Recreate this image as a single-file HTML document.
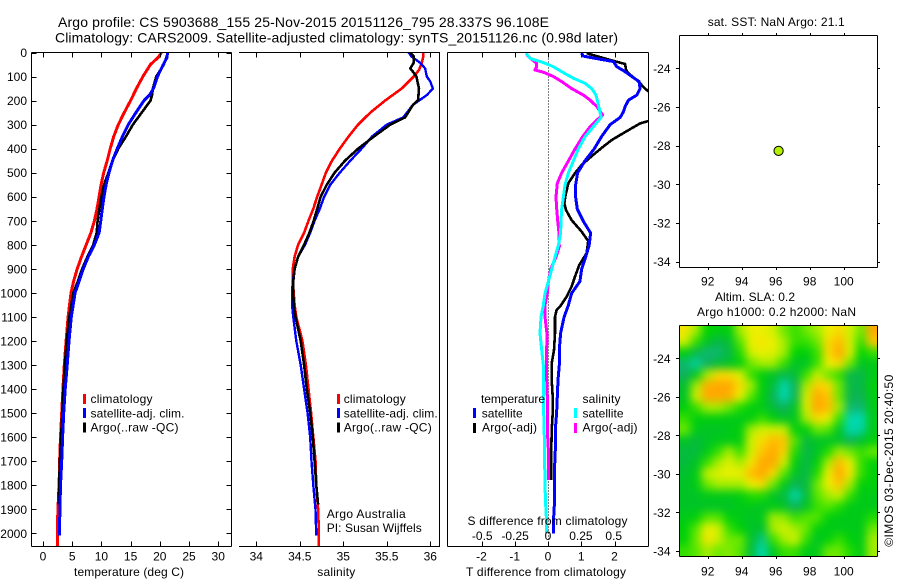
<!DOCTYPE html>
<html lang="en">
<head>
<meta charset="utf-8">
<title>Argo profile 5903688_155</title>
<style>
html,body{margin:0;padding:0;background:#fff;}
svg{display:block;}
text{font-family:"Liberation Sans",sans-serif;font-size:12px;fill:#000;}
.ttl{font-size:14px;}
</style>
</head>
<body>
<svg id="chart" xmlns="http://www.w3.org/2000/svg" width="900" height="580" viewBox="0 0 900 580">
  <defs>
    <clipPath id="clip1"><rect x="31.5" y="52.5" width="199.5" height="493.5"/></clipPath>
    <clipPath id="clip2"><rect x="239" y="52.5" width="201" height="493.5"/></clipPath>
    <clipPath id="clip3"><rect x="447.5" y="52.5" width="201" height="493.5"/></clipPath>
    <clipPath id="clipMap"><rect x="679.5" y="325" width="198" height="231"/></clipPath>
    <filter id="mapBlur" x="-10%" y="-10%" width="120%" height="120%" color-interpolation-filters="sRGB"><feGaussianBlur stdDeviation="4.5"/></filter>
  </defs>

  <text class="ttl" x="58" y="27" textLength="491">Argo profile: CS 5903688_155 25-Nov-2015 20151126_795 28.337S 96.108E</text>
  <text class="ttl" x="55" y="42.5" textLength="563">Climatology: CARS2009. Satellite-adjusted climatology: synTS_20151126.nc (0.98d later)</text>

  <g id="heat" clip-path="url(#clipMap)"><g id="heatCells" filter="url(#mapBlur)"></g></g>
  <g id="lines1" clip-path="url(#clip1)"></g>
  <g id="lines2" clip-path="url(#clip2)"></g>
  <line x1="548.5" x2="548.5" y1="52.5" y2="546" stroke="#000" stroke-width="1" stroke-dasharray="1 2" shape-rendering="crispEdges"/>
  <g id="lines3" clip-path="url(#clip3)"></g>
  <g id="axes"></g>

  <text x="74" y="576" textLength="110">temperature (deg C)</text>
  <text x="317.3" y="576" textLength="38">salinity</text>
  <text x="466" y="576" textLength="160">T difference from climatology</text>
  <text x="467.5" y="525" textLength="160">S difference from climatology</text>

  <g>
    <rect x="83" y="394" width="3" height="10" fill="#f00"/>
    <rect x="83" y="408" width="3" height="10" fill="#00f"/>
    <rect x="83" y="422.5" width="3" height="10" fill="#000"/>
    <text x="90.5" y="403" textLength="62">climatology</text>
    <text x="90.5" y="417.5" textLength="94">satellite-adj. clim.</text>
    <text x="90.5" y="431.5" textLength="88">Argo(..raw -QC)</text>
  </g>
  <g>
    <rect x="337" y="394" width="3" height="10" fill="#f00"/>
    <rect x="337" y="408" width="3" height="10" fill="#00f"/>
    <rect x="337" y="422.5" width="3" height="10" fill="#000"/>
    <text x="343.7" y="403" textLength="62">climatology</text>
    <text x="343.7" y="417.5" textLength="94">satellite-adj. clim.</text>
    <text x="343.7" y="431.5" textLength="88">Argo(..raw -QC)</text>
    <text x="326.7" y="518" textLength="79">Argo Australia</text>
    <text x="326.7" y="532" textLength="95">PI: Susan Wijffels</text>
  </g>
  <g>
    <text x="481" y="403" textLength="64">temperature</text>
    <text x="481.7" y="417.5" textLength="41">satellite</text>
    <text x="482" y="431.5" textLength="55">Argo(-adj)</text>
    <rect x="473" y="408" width="3" height="10" fill="#00f"/>
    <rect x="473" y="423" width="3" height="10" fill="#000"/>
    <text x="582.5" y="403" textLength="38">salinity</text>
    <text x="582.5" y="417.5" textLength="41">satellite</text>
    <text x="582.5" y="431.5" textLength="55">Argo(-adj)</text>
    <rect x="574" y="408" width="3" height="10" fill="#0ff"/>
    <rect x="574" y="423" width="3" height="10" fill="#f0f"/>
  </g>

  <text x="707.7" y="26" textLength="137">sat. SST: NaN Argo: 21.1</text>
  <text x="715" y="301" textLength="80">Altim. SLA: 0.2</text>
  <text x="697" y="316" textLength="159">Argo h1000: 0.2 h2000: NaN</text>
  <text transform="translate(893,546.7) rotate(-90)" x="0" y="0" textLength="172">©IMOS 03-Dec-2015 20:40:50</text>
  <g id="marker"></g>
</svg>

<script>
// ---- Depth tick labels
const depthTicks = [0,100,200,300,400,500,600,700,800,900,1000,1100,1200,1300,1400,1500,1600,1700,1800,1900,2000];
const tempTicks = [0,5,10,15,20,25,30];
const salTicks = [34,34.5,35,35.5,36];
const tDiffTicks = [-2,-1,0,1,2];
const sDiffTicks = [-0.5,-0.25,0,0.25,0.5];
const lonTicks = [92,94,96,98,100];
const latTicks = [-24,-26,-28,-30,-32,-34];

// ---- Temperature panel
const tempClimDepth = [0,20,50,100,150,200,250,300,350,400,450,500,550,600,650,700,750,800,850,900,950,1000,1100,1200,1300,1400,1500,1600,1700,1800,1900,2000,2053];
const tempClim = [20.3,19.75,18.4,17.1,16.0,15.0,13.9,12.9,12.1,11.5,11.0,10.4,9.95,9.6,9.25,8.8,8.2,7.4,6.6,5.85,5.25,4.8,4.3,3.95,3.65,3.4,3.2,3.0,2.85,2.75,2.55,2.45,2.45];
const tempSatDepth = [0,20,50,100,150,175,200,250,300,350,400,450,500,550,600,650,700,750,800,850,900,950,1000,1100,1200,1300,1400,1500,1600,1700,1800,1900,2010];
const tempSat = [21.3,21.25,20.6,19.6,18.9,18.3,17.3,15.9,14.6,13.6,12.7,11.9,11.3,10.8,10.45,10.15,9.9,9.6,8.8,7.75,6.9,6.2,5.5,4.85,4.45,4.15,3.8,3.55,3.35,3.2,3.0,2.9,2.8];
const tempArgoDepth = [0,50,100,150,175,200,250,300,350,400,450,500,550,600,650,700,750,800,850,900,950,1000,1100,1200,1300,1400,1500,1600,1700,1800,1880];
const tempArgo = [21.4,20.7,19.4,18.8,18.7,18.4,16.9,15.4,14.2,12.9,11.9,11.2,10.45,10.0,9.65,9.35,9.2,8.6,7.6,6.7,6.0,5.2,4.5,4.05,3.75,3.5,3.3,3.1,2.9,2.75,2.7];

// ---- Salinity panel
const salClimDepth = [0,17,45,73,100,150,200,250,300,350,400,450,500,550,600,650,700,750,800,850,900,950,1000,1050,1100,1200,1300,1400,1500,1600,1700,1800,1900,2000,2053];
const salClim = [35.92,35.92,35.9,35.87,35.81,35.67,35.48,35.31,35.17,35.06,34.96,34.87,34.8,34.75,34.7,34.655,34.6,34.55,34.48,34.44,34.42,34.42,34.43,34.44,34.46,34.53,34.57,34.6,34.63,34.655,34.68,34.69,34.71,34.72,34.72];
const salSatDepth = [0,17,42,66,100,121,150,177,218,270,300,350,400,450,500,550,600,650,700,750,800,850,900,950,1000,1050,1100,1200,1300,1400,1500,1600,1700,1800,1900,2010];
const salSat = [35.75,35.785,35.88,35.94,35.96,36.0,36.03,35.96,35.8,35.69,35.5,35.33,35.21,35.08,34.96,34.85,34.78,34.73,34.67,34.62,34.56,34.48,34.44,34.42,34.41,34.41,34.425,34.46,34.51,34.55,34.59,34.62,34.635,34.655,34.68,34.69];
const salArgoDepth = [0,17,42,66,80,100,150,198,218,270,300,350,400,450,500,550,600,650,700,750,800,850,900,950,1000,1050,1100,1200,1300,1400,1500,1600,1700,1800,1880];
const salArgo = [35.77,35.81,35.81,35.77,35.8,35.84,35.87,35.86,35.8,35.71,35.54,35.35,35.17,35.02,34.9,34.81,34.74,34.7,34.66,34.61,34.55,34.48,34.44,34.425,34.425,34.43,34.45,34.51,34.55,34.58,34.62,34.65,34.67,34.69,34.71];

// ---- Difference panel
const dTSatDepth = [3,15,24,38,59,80,100,121,150,177,198,225,246,270,300,350,401,451,501,551,601,651,701,751,801,851,902,952,1002,1052,1102,1168,1238,1300,1362,1432,1501,1570,1654,1723,1861,1931,2000];
const dTSat = [1.01,1.06,1.41,1.97,2.07,2.32,2.52,2.74,2.77,2.67,2.42,2.32,2.27,2.17,1.87,1.61,1.39,1.11,0.89,0.83,0.83,0.88,1.06,1.28,1.24,1.13,1.01,0.96,0.71,0.61,0.48,0.38,0.34,0.34,0.3,0.28,0.26,0.22,0.22,0.2,0.2,0.17,0.16];
const dTArgoDepth = [3,15,31,48,73,87,114,150,163,200,285,295,315,343,364,392,426,468,502,544,593,627,655,697,745,784,835,884,933,974,1016,1057,1071,1100,1168,1238,1293,1362,1432,1501,1570,1654,1778];
const dTArgo = [1.16,1.46,1.87,2.32,2.35,2.42,2.67,2.92,3.03,3.6,3.02,2.77,2.52,2.17,1.92,1.66,1.36,1.01,0.81,0.61,0.53,0.49,0.54,0.71,1.01,1.21,1.16,0.94,0.81,0.71,0.56,0.36,0.26,0.21,0.21,0.18,0.11,0.11,0.14,0.14,0.11,0.1,0.1];
const dSSatDepth = [3,24,42,59,80,107,128,150,177,218,270,300,350,401,451,501,551,601,651,701,751,801,851,902,952,1002,1052,1100,1168,1238,1300,1432,1501,1570,1654,1723,1861,1931,2000];
const dSSat = [-0.168,-0.137,-0.036,0.041,0.104,0.193,0.282,0.332,0.365,0.383,0.404,0.358,0.282,0.231,0.193,0.155,0.129,0.117,0.104,0.099,0.096,0.079,0.053,0.028,0.003,-0.023,-0.036,-0.053,-0.061,-0.048,-0.036,-0.036,-0.033,-0.03,-0.025,-0.025,-0.02,-0.013,-0.01];
const dSArgoDepth = [3,17,45,59,73,82,100,121,150,177,198,225,260,281,309,350,401,451,501,544,601,651,701,751,808,851,902,952,1002,1052,1100,1168,1238,1362,1432,1570,1654,1778];
const dSArgo = [-0.168,-0.15,-0.086,-0.086,-0.099,-0.036,0.041,0.104,0.18,0.269,0.32,0.371,0.416,0.371,0.32,0.264,0.206,0.155,0.104,0.071,0.061,0.066,0.074,0.084,0.086,0.061,0.02,0.003,-0.005,-0.023,-0.023,-0.008,-0.01,-0.01,-0.005,-0.005,0.003,0.003];

// ---- Argo float position
const floatLon = [96.17];
const floatLat = [-28.27];

// ---- Sea level anomaly grid (rows north to south, columns west to east)
const slaGrid = [
[2.8,1.5,0,-0.3,-0.3,1.5,2.5,2.5,2,1,0.5,1,1.5,2.5,3,2,1,4.5],
[2,0.5,-0.8,-1.5,-1,0.8,2.5,2.8,2.5,1.5,0.5,0.5,1,3,3.8,2,0.5,3.5],
[-0.3,-1.5,-2.2,-2.2,-1.5,0.3,2,2.5,2.2,1.5,0,-0.3,0.5,3,4.6,2.2,0,0.5],
[-2.2,-2.8,-2,-1.2,-0.8,-0.3,1,1.5,1.5,0.5,-0.8,-0.8,0.5,2.5,3,1,-0.8,-0.5],
[-2,-0.8,1.5,3,3,2.2,0.5,-0.3,-0.8,-1.5,-1.2,0.5,1.8,1,0.5,-1.5,-1.5,-0.5],
[-1,1.5,4.2,4.8,4.6,3,1.5,-0.3,-1.2,-3,-1.8,1.5,3.3,3,1,-1.5,-1.5,-0.2],
[-0.8,2,4.4,4.8,4.2,2.5,0.8,-0.3,-1.8,-3.6,-1.8,2,4.4,3.5,1,-1.5,-1.8,-0.4],
[-0.3,0.5,1.5,1.5,1,0.3,-0.3,-0.5,-1.2,-2,-0.8,2,4.8,3.8,1.5,-2.2,-2.2,-0.5],
[0.5,-0.3,-0.3,-0.3,-0.5,-0.5,-0.3,0.5,-0.3,-0.8,-0.6,1.5,3,2.5,0.5,-3,-3,-0.5],
[1,-0.5,-0.8,-0.8,-0.5,-0.3,1.5,2,2,1.8,-0.3,-0.3,1,0.8,-0.8,-3,-2.8,-0.5],
[-0.8,-1.3,-0.8,-0.5,-0.5,-0.3,2,3,3.8,3.5,0.8,-1.3,-0.8,-0.8,-0.8,-1.8,-1,-0.2],
[-1.3,-1.3,-0.5,0.5,1.5,0.5,2,3.5,4.8,3.2,0.3,-1.5,-0.8,0.3,1.5,1,0.5,1],
[-1.3,-0.8,0.5,1.5,2.2,1.5,2.8,4.8,4.4,2,-0.3,-1.5,-0.3,1.5,3.8,2.5,0.5,-0.2],
[-1,-0.5,1.8,2.2,2.5,2.5,3.8,5,3,0.8,-0.8,-1.5,0.3,2.5,4.9,2.8,0.5,-0.2],
[-0.8,-0.5,1,1.5,1.5,1.5,2.5,3,1,-0.5,-1.8,-1.3,1,2.5,3.5,1.5,-0.2,-0.2],
[-0.8,-0.8,-0.5,-0.5,-0.5,-0.3,0.3,0.3,-0.8,-1.3,-3.6,-1.3,0.8,1.5,1.8,0.5,-0.5,-0.5],
[-0.8,-0.8,-0.8,-0.8,-0.8,-0.5,-0.5,-0.8,-0.5,-0.8,-2,-0.8,0.5,0.8,0.3,-0.5,-0.5,-0.5],
[-0.5,-0.2,0.8,0.8,-0.2,-0.5,-0.8,-0.5,1.5,1.3,0.5,0.8,0.8,-0.2,-0.5,-0.5,-0.5,0.3],
[-0.2,0.8,2.5,2,0.5,-0.2,-0.8,-1,1.5,2,1.5,1,-0.2,-0.5,-0.5,-0.5,-0.5,1],
[-0.2,1,2.8,1.8,1,1,-0.8,-2.5,0.5,1.5,2,0.5,-0.8,-0.2,0.5,-0.2,-0.5,1.5],
[0.5,0.8,1.5,1,1.2,0.8,-1.2,-3,-0.8,0.5,0.5,-0.5,-0.5,1,1,0.3,-0.5,1.5]
];

// ---- Axis functions
const NS = 'http://www.w3.org/2000/svg';
function yDepth(d){ return 52.5 + 0.2404 * d; }
function xTemp(t){ return 43 + 5.84 * t; }
function xSal(s){ return 256.3 + 87 * (s - 34); }
function xDT(t){ return 548 + 33.25 * t; }
function xDS(s){ return 548 + 131.5 * s; }
function xLon(l){ return 707.7 + 17 * (l - 92); }
function yLatTop(l){ return 68.3 + 19.33 * (-l - 24); }
function yLatBot(l){ return 358.3 + 19.27 * (-l - 24); }

const axesG = document.getElementById('axes');

function addLine(x1, y1, x2, y2, name){
  const el = document.createElementNS(NS, 'line');
  
  
  el.setAttribute('x1', x1);
  el.setAttribute('y1', y1);
  el.setAttribute('x2', x2);
  el.setAttribute('y2', y2);
  el.setAttribute('stroke', '#000');
  el.setAttribute('stroke-width', '1');
  el.setAttribute('shape-rendering', 'crispEdges');
  axesG.appendChild(el);
}
function addLabel(x, cy, str, anchor, name){
  const el = document.createElementNS(NS, 'text');
  
  
  el.setAttribute('x', x);
  el.setAttribute('y', cy + 4.5);
  el.setAttribute('text-anchor', anchor);
  el.textContent = str;
  axesG.appendChild(el);
}
function addSeries(groupId, depths, vals, xf, color, width, name){
  const el = document.createElementNS(NS, 'polyline');
  
  
  el.setAttribute('points', depths.map(function(d, i){ return xf(vals[i]).toFixed(1) + ',' + yDepth(d).toFixed(1); }).join(' '));
  el.setAttribute('fill', 'none');
  el.setAttribute('stroke', color);
  el.setAttribute('stroke-width', width);
  el.setAttribute('stroke-linejoin', 'round');
  el.setAttribute('shape-rendering', 'crispEdges');
  document.getElementById(groupId).appendChild(el);
}

// ---- Profile lines
addSeries('lines1', tempClimDepth, tempClim, xTemp, '#f00', 3, 'temperature-climatology-line');
addSeries('lines1', tempArgoDepth, tempArgo, xTemp, '#000', 2.6, 'temperature-argo-line');
addSeries('lines1', tempSatDepth, tempSat, xTemp, '#00f', 3, 'temperature-satellite-line');
addSeries('lines2', salClimDepth, salClim, xSal, '#f00', 2.6, 'salinity-climatology-line');
addSeries('lines2', salSatDepth, salSat, xSal, '#00f', 2.4, 'salinity-satellite-line');
addSeries('lines2', salArgoDepth, salArgo, xSal, '#000', 2.6, 'salinity-argo-line');
addSeries('lines3', dTArgoDepth, dTArgo, xDT, '#000', 2.6, 't-difference-argo-line');
addSeries('lines3', dTSatDepth, dTSat, xDT, '#00f', 3, 't-difference-satellite-line');
addSeries('lines3', dSArgoDepth, dSArgo, xDS, '#f0f', 3, 's-difference-argo-line');
addSeries('lines3', dSSatDepth, dSSat, xDS, '#0ff', 3, 's-difference-satellite-line');

// ---- Panel frames
addLine(31.5, 52.5, 231.5, 52.5, 'temperature-panel-top');
addLine(31.5, 546.5, 231.5, 546.5, 'temperature-panel-bottom');
addLine(31.5, 52.5, 31.5, 546.5, 'temperature-panel-left');
addLine(231.5, 52.5, 231.5, 546.5, 'temperature-panel-right');
addLine(239, 52.5, 440, 52.5, 'salinity-panel-top');
addLine(239, 546.5, 440, 546.5, 'salinity-panel-bottom');
addLine(439.5, 52.5, 439.5, 546.5, 'salinity-panel-right');
addLine(447.5, 52.5, 648.5, 52.5, 'difference-panel-top');
addLine(447.5, 546.5, 648.5, 546.5, 'difference-panel-bottom');
addLine(447.5, 52.5, 447.5, 546.5, 'difference-panel-left');
addLine(648.5, 52.5, 648.5, 546.5, 'difference-panel-right');

// ---- Depth ticks
depthTicks.forEach(function(d){
  const y = Math.round(yDepth(d)) + 0.5;
  addLine(31.5, y, 36.5, y, 'depth-tick');
  addLine(226.5, y, 231.5, y, 'depth-tick');
  addLabel(27, yDepth(d), String(d), 'end', 'depth-tick-label');
});

// ---- X ticks
tempTicks.forEach(function(t){
  const x = Math.round(xTemp(t)) + 0.5;
  addLine(x, 52.5, x, 57.5, 'temperature-tick');
  addLine(x, 541.5, x, 546.5, 'temperature-tick');
  addLabel(xTemp(t), 556, String(t), 'middle', 'temperature-tick-label');
});
salTicks.forEach(function(s){
  const x = Math.round(xSal(s)) + 0.5;
  addLine(x, 52.5, x, 57.5, 'salinity-tick');
  addLine(x, 541.5, x, 546.5, 'salinity-tick');
  addLabel(xSal(s), 556, String(s), 'middle', 'salinity-tick-label');
});
tDiffTicks.forEach(function(t){
  const x = Math.round(xDT(t)) + 0.5;
  addLine(x, 52.5, x, 57.5, 't-difference-tick');
  addLine(x, 541.5, x, 546.5, 't-difference-tick');
  addLabel(xDT(t), 556, String(t), 'middle', 't-difference-tick-label');
});
sDiffTicks.forEach(function(s){
  addLabel(xDS(s), 535.7, String(s), 'middle', 's-difference-tick-label');
});

// ---- Map frames and ticks
function drawMapFrame(top, bottom, yf, labelY, prefix){
  addLine(679.5, top + 0.5, 877.5, top + 0.5, prefix + '-frame-top');
  addLine(679.5, bottom + 0.5, 877.5, bottom + 0.5, prefix + '-frame-bottom');
  addLine(679.5, top + 0.5, 679.5, bottom + 0.5, prefix + '-frame-left');
  addLine(877.5, top + 0.5, 877.5, bottom + 0.5, prefix + '-frame-right');
  lonTicks.forEach(function(l){
    const x = Math.round(xLon(l)) + 0.5;
    addLine(x, top - 2, x, top, prefix + '-longitude-tick');
    addLine(x, bottom + 1, x, bottom + 3, prefix + '-longitude-tick');
    addLabel(xLon(l), labelY, String(l), 'middle', prefix + '-longitude-label');
  });
  latTicks.forEach(function(l){
    const y = Math.round(yf(l)) + 0.5;
    addLine(676, y, 679.5, y, prefix + '-latitude-tick');
    addLine(877.5, y, 880, y, prefix + '-latitude-tick');
    addLabel(670.5, yf(l), String(l), 'end', prefix + '-latitude-label');
  });
}
drawMapFrame(35, 267, yLatTop, 281, 'sst-map');
drawMapFrame(325, 556, yLatBot, 571, 'sla-map');

// ---- Float marker
const marker = document.createElementNS(NS, 'circle');


marker.setAttribute('cx', xLon(floatLon[0]));
marker.setAttribute('cy', yLatTop(floatLat[0]));
marker.setAttribute('r', '4.6');
marker.setAttribute('fill', '#b4f000');
marker.setAttribute('stroke', '#000');
marker.setAttribute('stroke-width', '1');
document.getElementById('marker').appendChild(marker);

// ---- Heatmap colours
const colorStops = [-3,-2,-1,0,0.9,1.8,2.6,3.4,4.4];
const colorR = [0,16,0,0,96,200,240,255,255];
const colorG = [216,176,192,212,232,240,240,200,168];
const colorB = [176,96,48,0,0,0,0,0,0];
function slaColor(v){
  let i = 0;
  while (i < colorStops.length - 2 && v > colorStops[i + 1]) i++;
  const f = Math.max(0, Math.min(1, (v - colorStops[i]) / (colorStops[i + 1] - colorStops[i])));
  const r = Math.round(colorR[i] + f * (colorR[i + 1] - colorR[i]));
  const g = Math.round(colorG[i] + f * (colorG[i + 1] - colorG[i]));
  const b = Math.round(colorB[i] + f * (colorB[i + 1] - colorB[i]));
  return 'rgb(' + r + ',' + g + ',' + b + ')';
}
const heatG = document.getElementById('heatCells');
const cellW = 198 / slaGrid[0].length;
const cellH = 231 / slaGrid.length;
slaGrid.forEach(function(row, r){
  row.forEach(function(v, c){
    const padL = c === 0 ? 16 : 0;
    const padR = c === row.length - 1 ? 16 : 0;
    const padT = r === 0 ? 16 : 0;
    const padB = r === slaGrid.length - 1 ? 16 : 0;
    const cell = document.createElementNS(NS, 'rect');
    
    
    cell.setAttribute('x', 679.5 + c * cellW - padL);
    cell.setAttribute('y', 325 + r * cellH - padT);
    cell.setAttribute('width', cellW + padL + padR + 0.5);
    cell.setAttribute('height', cellH + padT + padB + 0.5);
    cell.setAttribute('fill', slaColor(v));
    heatG.appendChild(cell);
  });
});
</script>
</body>
</html>
